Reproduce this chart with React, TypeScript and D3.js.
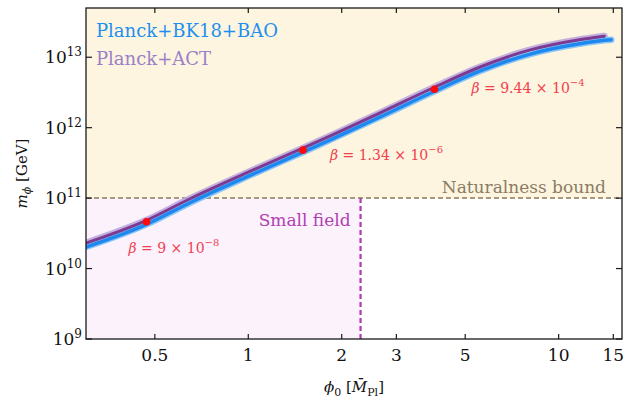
import * as d3 from "d3";

// phi_0 grid (in reduced Planck units)
const phiBK18 = [0.3, 0.472, 0.649, 1.0, 1.5, 1.83, 2.65, 3.98, 5.56, 8.05, 11.66, 14.03, 14.77];
const massBK18 = [2.02e10, 4.28e10, 8.6e10, 2.05e11, 4.49e11, 6.65e11, 1.41e12, 3.29e12, 6.33e12, 1.1e13, 1.55e13, 1.74e13, 1.77e13];

const phiACT = [0.3, 0.472, 0.649, 1.0, 1.5, 1.83, 2.65, 3.98, 5.56, 8.05, 11.66, 14.03];
const massACT = [2.3e10, 4.88e10, 9.8e10, 2.34e11, 5.12e11, 7.57e11, 1.61e12, 3.75e12, 7.21e12, 1.26e13, 1.77e13, 1.99e13];

// benchmark points
const betaPhi = [0.47, 1.5, 3.98];
const betaMass = [4.61e10, 4.8e11, 3.52e12];
const betaMant = ["9", "1.34", "9.44"];
const betaExp = ["\u22128", "\u22126", "\u22124"];

const xTicks = [0.5, 1, 2, 3, 5, 10, 15];
const yTicks = [9, 10, 11, 12, 13];

const naturalness = 1e11;
const smallField = 2.3;

const W = 640, H = 405;
const m = { left: 86, right: 18, top: 8, bottom: 66 };
const font = "DejaVu Serif";

export default function App() {
  const x = d3.scaleLog().domain([0.3, 16]).range([m.left, W - m.right]);
  const y = d3.scaleLog().domain([1e9, 5e13]).range([H - m.bottom, m.top]);
  const x0 = m.left, x1 = W - m.right, y0 = m.top, y1 = H - m.bottom;

  const line = d3.line<[number, number]>()
    .x(d => x(d[0]))
    .y(d => y(d[1]))
    .curve(d3.curveMonotoneX);

  const bk = line(phiBK18.map((p, i) => [p, massBK18[i]] as [number, number])) || "";
  const act = line(phiACT.map((p, i) => [p, massACT[i]] as [number, number])) || "";

  const labelOff = [[-18, 31], [27, 10], [37, 4]];

  return (
    <svg width={W} height={H} style={{ position: "absolute", left: 0, top: 0 }}>
      <defs>
        <clipPath id="plot">
          <rect x={x0} y={y0} width={x1 - x0} height={y1 - y0} />
        </clipPath>
      </defs>
      {/* shaded regions */}
      <rect x={x0} y={y0} width={x1 - x0} height={y(naturalness) - y0} fill="#fdf5df" />
      <rect x={x0} y={y(naturalness)} width={x(smallField) - x0} height={y1 - y(naturalness)} fill="#fbf2fc" />

      <line x1={x0} x2={x1} y1={y(naturalness)} y2={y(naturalness)} stroke="#a8987e" strokeWidth={2} strokeDasharray="5,3" />
      <line x1={x(smallField)} x2={x(smallField)} y1={y(naturalness)} y2={y1} stroke="#b03cb0" strokeWidth={2.2} strokeDasharray="5,3" />

      <g clipPath="url(#plot)" fill="none" strokeLinecap="round" strokeLinejoin="round">
        <path d={act} stroke="#b9a3dc" strokeWidth={7} opacity={0.85} />
        <path d={bk} stroke="#8cc6f6" strokeWidth={6.5} />
        <path d={bk} stroke="#1f88ee" strokeWidth={3.5} />
        <path d={act} stroke="#7d3a92" strokeWidth={3} />
      </g>

      {betaPhi.map((p, i) => (
        <circle key={i} cx={x(p)} cy={y(betaMass[i])} r={3.8} fill="#ff0a0a" />
      ))}
      {betaPhi.map((p, i) => (
        <text key={"b" + i} x={x(p) + labelOff[i][0]} y={y(betaMass[i]) + labelOff[i][1]} fill="#f04050" fontSize={14} fontFamily={font}>
          <tspan fontStyle="italic">{"\u03b2"}</tspan>
          <tspan>{" = " + betaMant[i] + " \u00d7 10"}</tspan>
          <tspan dy={-7} fontSize={10}>{betaExp[i]}</tspan>
        </text>
      ))}

      <text x={x(smallField) - 10} y={y(naturalness) + 28} textAnchor="end" fill="#b040b0" fontSize={17} fontFamily={font}>Small field</text>
      <text x={x1 - 16} y={y(naturalness) - 5} textAnchor="end" fill="#8b7b64" fontSize={17} fontFamily={font}>Naturalness bound</text>

      <text x={96} y={37} fill="#1e8ff0" fontSize={18} fontFamily={font}>Planck+BK18+BAO</text>
      <text x={96} y={65} fill="#9a80c8" fontSize={18} fontFamily={font}>Planck+ACT</text>

      {/* frame and ticks */}
      <rect x={x0} y={y0} width={x1 - x0} height={y1 - y0} fill="none" stroke="#1a1a1a" strokeWidth={1.3} />
      {xTicks.map(t => (
        <g key={"x" + t}>
          <line x1={x(t)} x2={x(t)} y1={y1} y2={y1 - 5} stroke="#1a1a1a" strokeWidth={1.2} />
          <line x1={x(t)} x2={x(t)} y1={y0} y2={y0 + 5} stroke="#1a1a1a" strokeWidth={1.2} />
          <text x={x(t)} y={y1 + 22} textAnchor="middle" fontSize={17} fill="#111" fontFamily={font}>{t}</text>
        </g>
      ))}
      {yTicks.map(e => (
        <g key={"y" + e}>
          <line x1={x0} x2={x0 + 6} y1={y(10 ** e)} y2={y(10 ** e)} stroke="#1a1a1a" strokeWidth={1.2} />
          <line x1={x1} x2={x1 - 6} y1={y(10 ** e)} y2={y(10 ** e)} stroke="#1a1a1a" strokeWidth={1.2} />
          <text x={82} y={y(10 ** e) + 6} textAnchor="end" fontSize={17} fill="#111" fontFamily={font}>
            10<tspan dy={-7} fontSize={12}>{e}</tspan>
          </text>
        </g>
      ))}

      <text x={(x0 + x1) / 2} y={392} textAnchor="middle" fontSize={15} fill="#111" fontFamily={font}>
        <tspan fontStyle="italic">{"\u03d5"}</tspan>
        <tspan dy={4} fontSize={11}>0</tspan>
        <tspan dy={-4}>{" ["}</tspan>
        <tspan fontStyle="italic">{"M\u0304"}</tspan>
        <tspan dy={4} fontSize={11}>Pl</tspan>
        <tspan dy={-4}>]</tspan>
      </text>
      <text transform={`translate(27,${(y0 + y1) / 2}) rotate(-90)`} textAnchor="middle" fontSize={15} fill="#111" fontFamily={font}>
        <tspan fontStyle="italic">m</tspan>
        <tspan dy={4} fontSize={11} fontStyle="italic">{"\u03d5"}</tspan>
        <tspan dy={-4}>{" [GeV]"}</tspan>
      </text>
    </svg>
  );
}
